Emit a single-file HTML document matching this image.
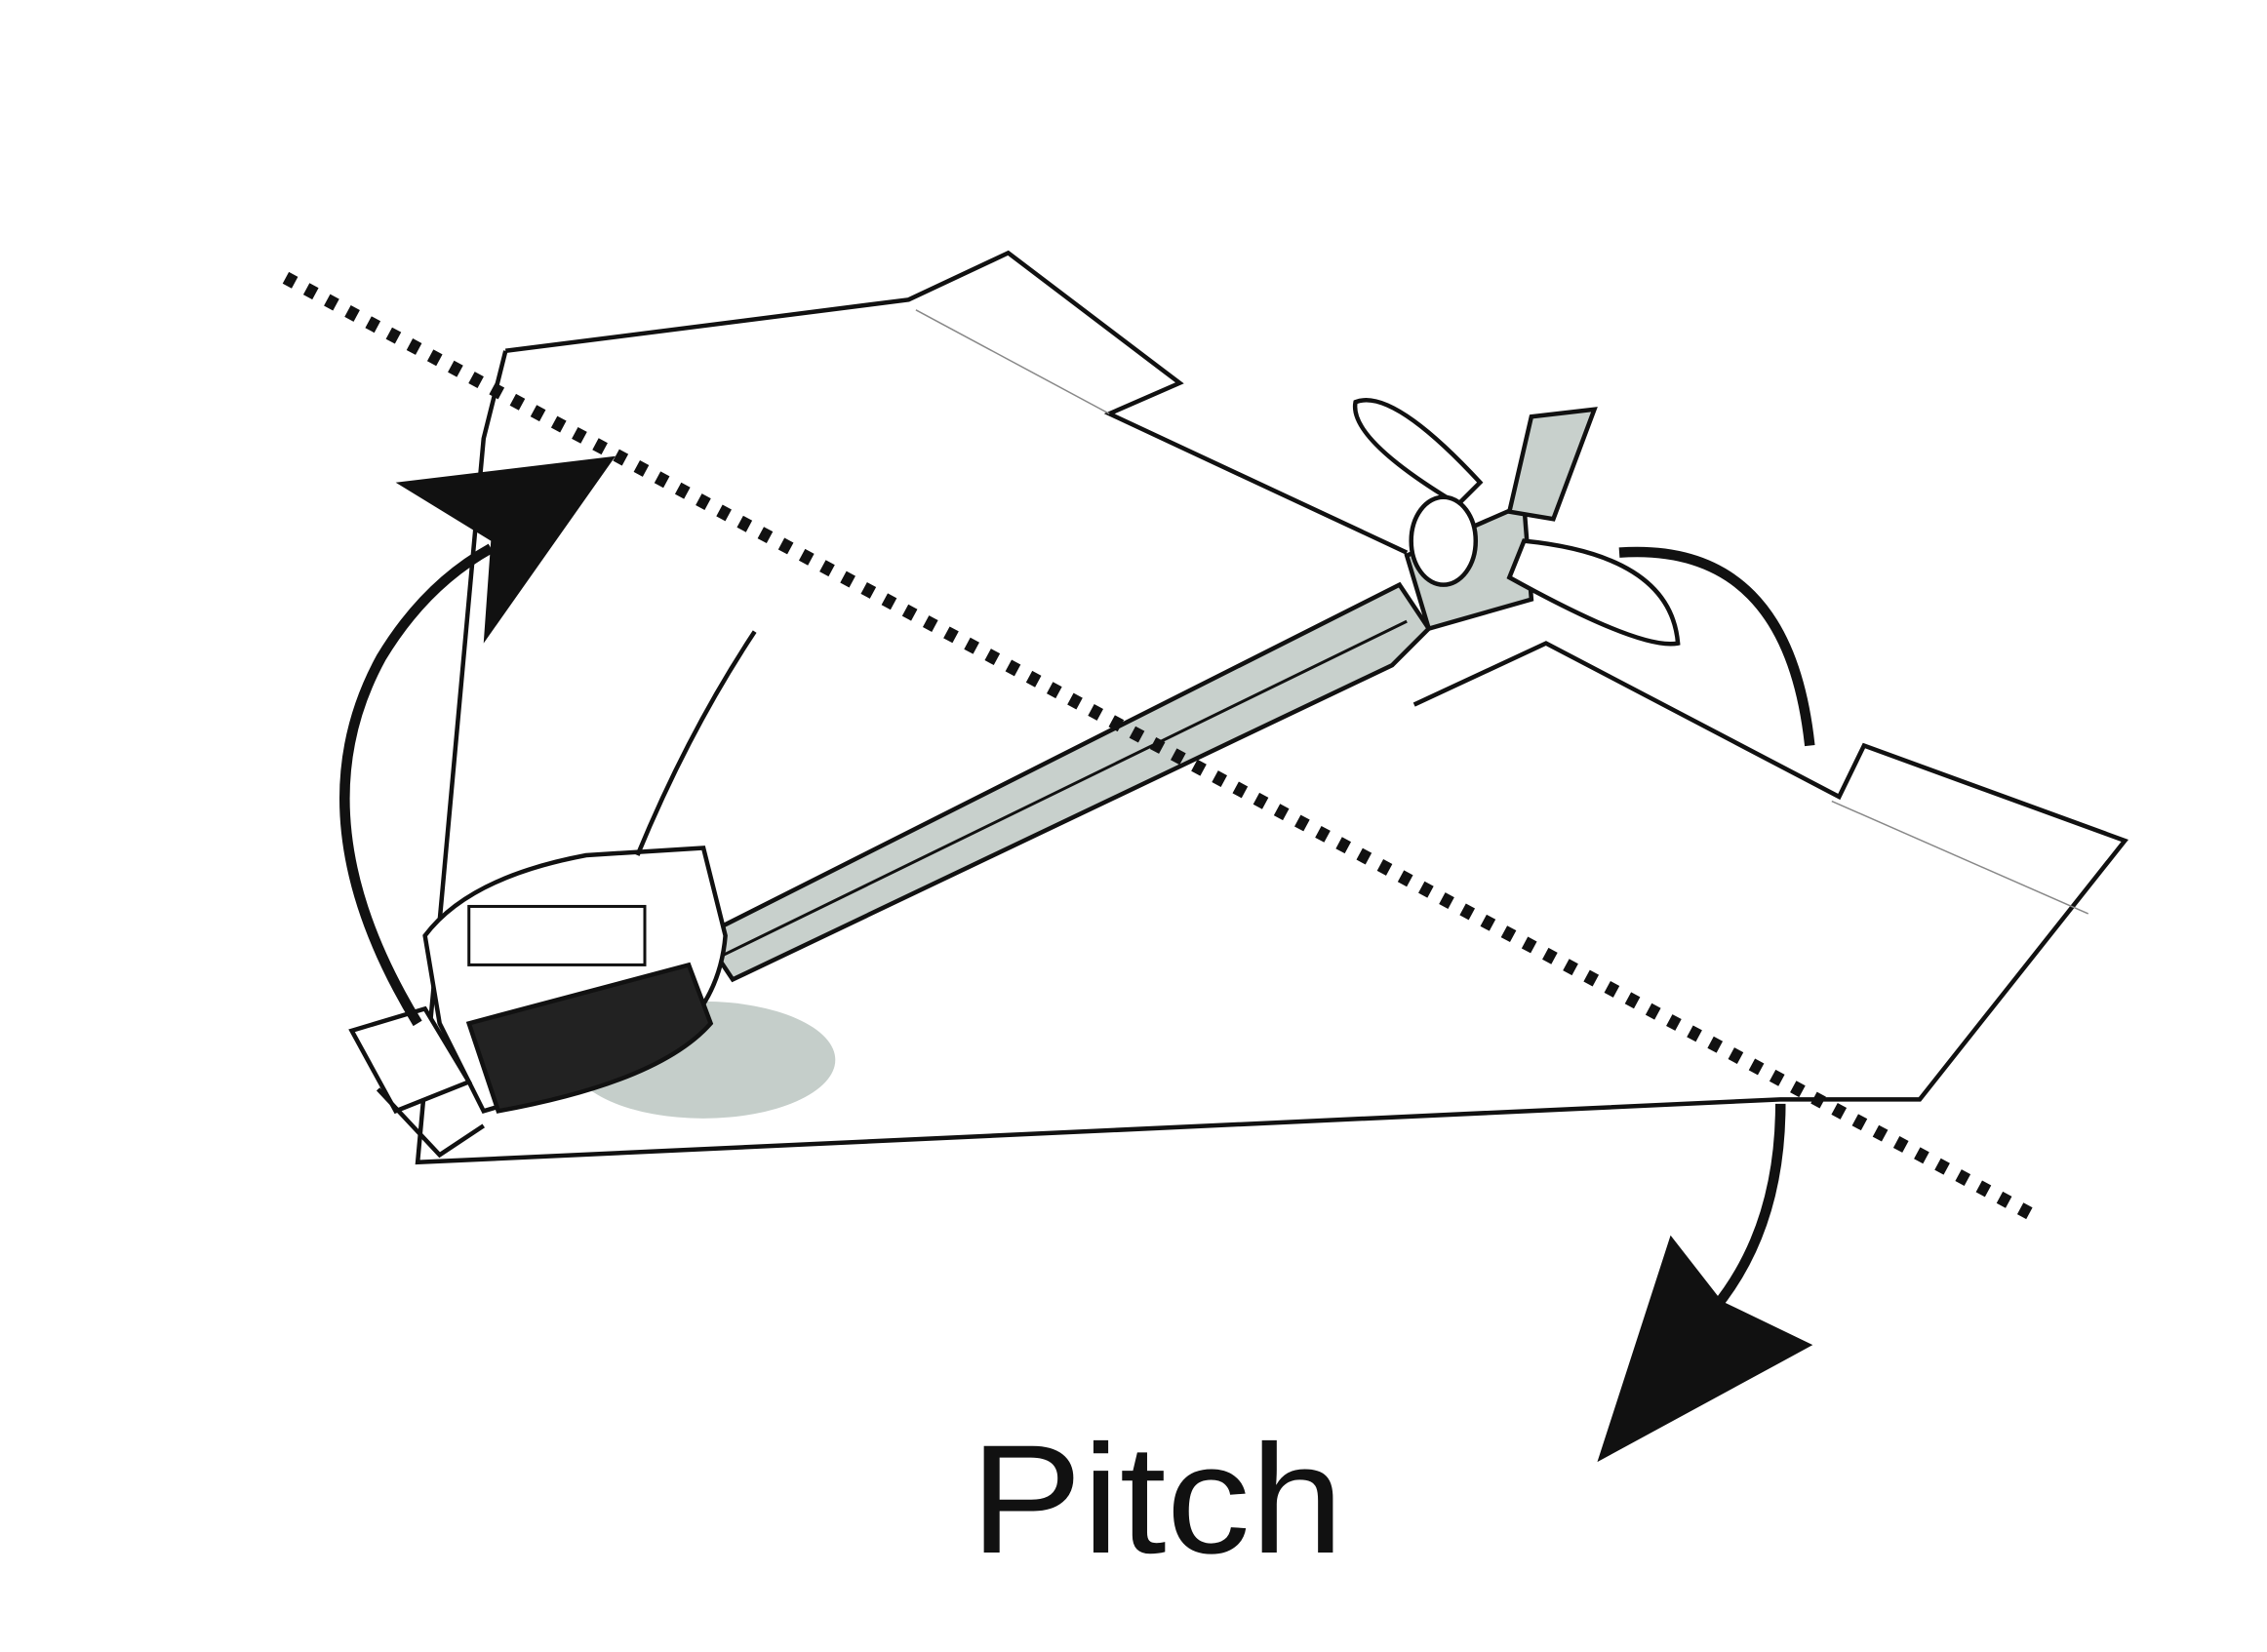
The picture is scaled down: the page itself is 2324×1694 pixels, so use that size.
<!DOCTYPE html>
<html><head><meta charset="utf-8"><style>
html,body{margin:0;padding:0;background:#fff;}
svg{display:block;}
</style></head><body>
<svg width="2324" height="1694" viewBox="0 0 1547 1130" preserveAspectRatio="none" xmlns="http://www.w3.org/2000/svg">
<rect width="1547" height="1130" fill="#fff"/>
<ellipse cx="480" cy="725" rx="90" ry="40" fill="#c5ceca"/>
<g fill="none" stroke="#111" stroke-width="3" stroke-linejoin="miter">
<path d="M345,240 L620,205 L688,173 L805,262 L757,283 L960,378"/>
<path d="M345,240 L330,300 L285,795 L1215,752 L1310,752 L1450,575 L1272,510 L1255,545 L1055,440 L965,482"/>
<path d="M1250,548 L1425,625" stroke-width="1" stroke="#888"/>
<path d="M625,212 L757,283" stroke-width="1" stroke="#888"/>
</g>
<polygon points="480,640 955,400 975,430 950,455 500,670" fill="#c8d0cc" stroke="#111" stroke-width="3"/>
<line x1="490" y1="655" x2="960" y2="425" stroke="#111" stroke-width="2"/>
<g stroke="#111" stroke-width="3">
<path d="M960,380 L1040,345 L1045,410 L975,430 Z" fill="#c8d0cc"/>
<path d="M925,275 Q950,265 1010,330 L995,345 Q920,300 925,275 Z" fill="#fff"/>
<path d="M1045,285 L1088,280 L1060,355 L1030,350 Z" fill="#c8d0cc"/>
<path d="M1040,370 Q1140,380 1145,440 Q1120,445 1030,395 Z" fill="#fff"/>
<ellipse cx="985" cy="370" rx="22" ry="30" fill="#fff"/>
</g>
<g stroke="#111" stroke-width="3">
<path d="M290,640 Q320,600 400,585 L480,580 L495,640 Q490,700 430,730 L330,760 L300,700 Z" fill="#fff"/>
<path d="M320,700 L470,660 L485,700 Q450,740 340,760 Z" fill="#222"/>
<path d="M240,705 L290,690 L320,740 L270,760 Z" fill="#fff"/>
<path d="M258,745 L300,790 L330,770" fill="none"/>
<path d="M435,585 Q470,500 515,432" fill="none" stroke-width="3"/>
<rect x="320" y="620" width="120" height="40" fill="none" stroke-width="2"/>
</g>
<line x1="195" y1="190" x2="1385" y2="830" stroke="#111" stroke-width="9" stroke-dasharray="7,9"/>
<path d="M285,700 Q200,560 260,450 Q290,400 335,375" fill="none" stroke="#111" stroke-width="7"/>
<polygon points="270,330 420,312 330,440 335,370" fill="#111"/>
<path d="M1105,378 Q1220,370 1235,510" fill="none" stroke="#111" stroke-width="7"/>
<path d="M1215,755 Q1215,840 1170,895" fill="none" stroke="#111" stroke-width="7"/>
<polygon points="1140,845 1175,890 1237,920 1090,1000" fill="#111"/>
<text x="662" y="1062" font-family="Liberation Sans, sans-serif" font-size="106" textLength="255" lengthAdjust="spacingAndGlyphs" fill="#111">Pitch</text>
</svg>
</body></html>
